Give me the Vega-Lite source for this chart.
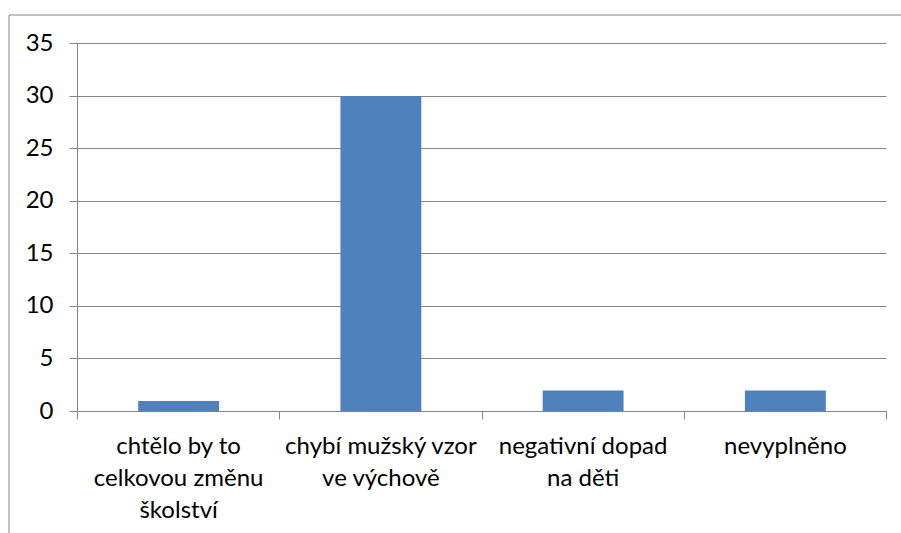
{
  "$schema": "https://vega.github.io/schema/vega-lite/v6.json",
  "autosize": {"type": "none"},
  "padding": {"left": 8.5, "top": 14.5, "right": 0, "bottom": 0},
  "width": 895,
  "height": 525,
  "background": "white",
  "view": {"stroke": "#888888", "strokeWidth": 1, "fill": "white"},
  "config": {
    "view": {"stroke": "#888888", "strokeWidth": 1, "fill": "white"},
    "font": "Lato"
  },
  "data": {
    "values": [
      {"kategorie": "chtělo by to\ncelkovou změnu\nškolství", "pocet": 1},
      {"kategorie": "chybí mužský vzor\nve výchově", "pocet": 30},
      {"kategorie": "negativní dopad\nna děti", "pocet": 2},
      {"kategorie": "nevyplněno", "pocet": 2}
    ]
  },
  "mark": {"type": "bar", "color": "#4F81BD", "width": {"band": 0.4}},
  "encoding": {
    "x": {
      "field": "kategorie",
      "type": "nominal",
      "sort": null,
      "scale": {"range": [69, 878], "paddingInner": 0, "paddingOuter": 0},
      "axis": {
        "title": null,
        "orient": "bottom",
        "offset": -128,
        "translate": 0,
        "tickBand": "extent",
        "tickSize": 8,
        "tickColor": "#868686",
        "domainColor": "#868686",
        "labelAngle": 0,
        "labelFont": "Lato",
        "labelFontSize": 24,
        "labelColor": "#000000",
        "labelPadding": 15,
        "labelLineHeight": 32,
        "labelLimit": 0,
        "labelExpr": "isValid(datum.value) ? split(datum.value, '\\n') : ''",
        "grid": false
      }
    },
    "y": {
      "field": "pocet",
      "type": "quantitative",
      "scale": {"domain": [0, 35], "range": [397, 29], "nice": false},
      "axis": {
        "title": null,
        "orient": "left",
        "offset": -69,
        "translate": 0,
        "values": [0, 5, 10, 15, 20, 25, 30, 35],
        "tickSize": 8,
        "tickColor": "#868686",
        "domainColor": "#868686",
        "gridColor": "#868686",
        "grid": true,
        "labelFont": "Lato",
        "labelFontSize": 24,
        "labelColor": "#000000",
        "labelPadding": 16
      }
    }
  }
}
